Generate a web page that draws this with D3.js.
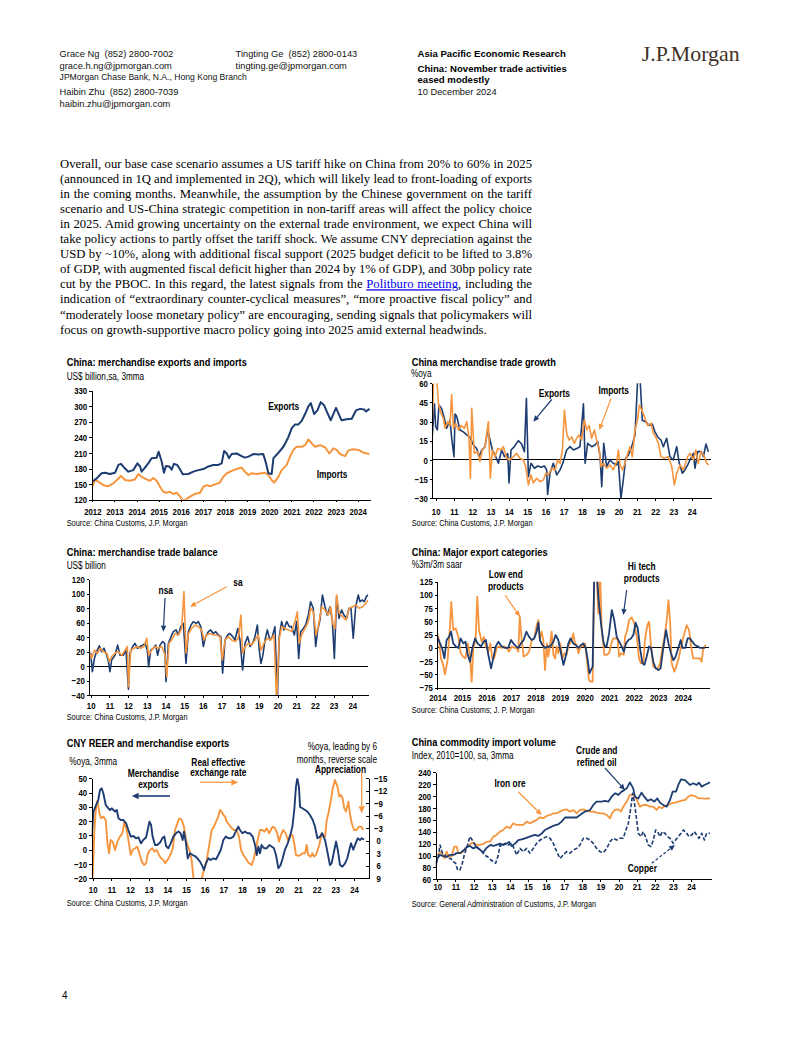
<!DOCTYPE html>
<html><head><meta charset="utf-8">
<script src="https://cdn.jsdelivr.net/npm/d3@7"></script>
<style>html,body{margin:0;padding:0;background:#fff;}svg{display:block;}</style>
</head><body>
<svg id="page" width="802" height="1037"></svg>
<script>
// ================= DATA =================
// Chart 1: exports & imports (US$ bn, sa, 3mma)
const c1XLabels = ['2012','2013','2014','2015','2016','2017','2018','2019','2020','2021','2022','2023','2024'];
const c1YTicks = [120,150,180,210,240,270,300,330];
const c1Exports = [[2012.00,155],[2012.20,161],[2012.42,171],[2012.57,172],[2012.80,169.5],[2013.03,172],[2013.18,187],[2013.30,189],[2013.48,180],[2013.63,174],[2013.85,177],[2014.04,190],[2014.16,184],[2014.23,174],[2014.38,182],[2014.53,190],[2014.68,200],[2014.91,201],[2015.00,212.5],[2015.14,193],[2015.24,172],[2015.33,185],[2015.48,184],[2015.59,178],[2015.69,189],[2015.84,187],[2015.97,178],[2016.09,169],[2016.34,169.5],[2016.57,174],[2016.79,177],[2017.02,179],[2017.25,184],[2017.47,187],[2017.70,187],[2017.85,190],[2017.96,214],[2018.08,209],[2018.18,200],[2018.30,208],[2018.53,209],[2018.75,204],[2018.90,201],[2019.06,203],[2019.28,208],[2019.50,207],[2019.73,208],[2019.85,191],[2019.96,171],[2020.11,169.5],[2020.19,200],[2020.41,210],[2020.64,222],[2020.86,240],[2021.02,258],[2021.17,265],[2021.32,265],[2021.47,272],[2021.62,285],[2021.77,300],[2021.88,306],[2022.03,285],[2022.18,292],[2022.33,308],[2022.48,302],[2022.60,290],[2022.78,273],[2023.02,297],[2023.27,273],[2023.50,275],[2023.73,276],[2023.92,292],[2024.11,295],[2024.29,294],[2024.38,290],[2024.53,295]];
const c1Imports = [[2012.00,145],[2012.12,158],[2012.27,155],[2012.50,148],[2012.72,146],[2012.95,151.5],[2013.18,161],[2013.30,166],[2013.48,158],[2013.70,156.6],[2013.93,159],[2014.08,169.5],[2014.23,164],[2014.46,159],[2014.61,156.6],[2014.76,162],[2014.91,156.6],[2015.06,145],[2015.21,135.4],[2015.36,133.5],[2015.51,135.4],[2015.66,131],[2015.81,133.5],[2015.97,126],[2016.09,118],[2016.24,120.6],[2016.42,126],[2016.64,131],[2016.87,133.5],[2017.02,145],[2017.17,148],[2017.32,146],[2017.55,149.5],[2017.77,153],[2017.92,164],[2018.08,171],[2018.23,174],[2018.38,177],[2018.60,180],[2018.75,182],[2018.90,174],[2019.06,167.5],[2019.21,171],[2019.43,169.5],[2019.66,171],[2019.81,172],[2019.96,167.5],[2020.11,158],[2020.22,153],[2020.41,164],[2020.56,177],[2020.79,187],[2020.94,203],[2021.09,216],[2021.24,222],[2021.47,222],[2021.62,225],[2021.77,236],[2021.92,228.5],[2022.07,222],[2022.30,225],[2022.52,221],[2022.72,209],[2022.90,219],[2023.05,216],[2023.20,208],[2023.43,204],[2023.58,215],[2023.80,217],[2024.03,216],[2024.26,210.5],[2024.53,208]];

// Chart 2: trade growth (%oya)
const c2XLabels = ['10','11','12','13','14','15','16','17','18','19','20','21','22','23','24'];
const c2YTicks = [-30,-15,0,15,30,45,60];
const c2Exports = [[2009.82,20],[2009.93,44],[2010.00,26],[2010.09,23.5],[2010.18,43],[2010.33,40],[2010.47,32.6],[2010.60,24.8],[2010.78,31],[2010.87,17.7],[2011.00,2.6],[2011.06,36],[2011.15,34],[2011.33,23.5],[2011.51,22],[2011.70,19.6],[2011.88,17.7],[2012.06,11.7],[2012.24,9],[2012.37,2.6],[2012.52,7.8],[2012.70,10.4],[2012.84,23.5],[2012.97,15.6],[2013.10,7.8],[2013.24,4],[2013.43,-2.6],[2013.61,7.8],[2013.76,2.6],[2013.94,5],[2014.01,-18],[2014.12,7.8],[2014.30,10.4],[2014.52,15.1],[2014.70,12.5],[2014.85,6.5],[2014.96,48],[2015.07,-13],[2015.21,-2.6],[2015.40,-6.5],[2015.58,-4.7],[2015.76,-5.7],[2015.94,-4.7],[2016.07,-7.8],[2016.12,-27],[2016.25,-10.4],[2016.43,-2.6],[2016.62,-11.7],[2016.80,-7.8],[2016.98,-1.3],[2017.16,7.8],[2017.35,10.4],[2017.53,7.8],[2017.71,9],[2017.89,10.4],[2018.08,44],[2018.17,-2.6],[2018.31,13],[2018.53,10.4],[2018.71,11.7],[2018.86,14.3],[2018.99,2.6],[2019.08,-21],[2019.19,13],[2019.35,-5.2],[2019.53,0],[2019.71,-2.6],[2019.90,-3.9],[2019.99,-1.3],[2020.13,-30],[2020.26,-15.6],[2020.39,1.3],[2020.54,3.9],[2020.72,10.4],[2020.90,19.6],[2021.05,65],[2021.17,65],[2021.30,31],[2021.48,30],[2021.67,27],[2021.85,28],[2021.99,22],[2022.14,18],[2022.32,15.6],[2022.45,10.4],[2022.63,17],[2022.81,2.6],[2022.99,0],[2023.18,10.4],[2023.32,-2.6],[2023.49,-10.4],[2023.63,-7.8],[2023.78,-3.9],[2023.91,0],[2024.09,5.2],[2024.18,-6.5],[2024.33,6.5],[2024.52,6.5],[2024.64,2.6],[2024.78,12.5],[2024.91,6.5]];
const c2Imports = [[2009.82,31],[2009.89,65],[2010.05,65],[2010.15,44],[2010.29,36.5],[2010.42,32.6],[2010.51,24.8],[2010.66,30],[2010.78,27],[2010.87,51],[2010.97,24.8],[2011.09,28.7],[2011.24,23.5],[2011.39,27],[2011.57,24.8],[2011.70,30],[2011.82,17],[2011.90,-14.3],[2011.97,40.4],[2012.11,5.2],[2012.30,6.5],[2012.42,-1.3],[2012.55,7.8],[2012.70,10.4],[2012.88,30],[2012.99,-14.3],[2013.10,7.8],[2013.24,2.6],[2013.39,9],[2013.57,7.8],[2013.70,10.4],[2013.88,1.3],[2014.06,0],[2014.25,2.6],[2014.43,5.2],[2014.61,1.3],[2014.79,0],[2014.92,-5.2],[2015.07,-19.6],[2015.21,-11.7],[2015.34,-18],[2015.52,-14.3],[2015.71,-17],[2015.89,-15.6],[2016.02,-10.4],[2016.16,-11.7],[2016.34,-6.5],[2016.53,-7.8],[2016.67,0],[2016.80,-2.6],[2016.93,7.8],[2017.04,39],[2017.16,21],[2017.29,15.6],[2017.44,18],[2017.58,13],[2017.71,17],[2017.84,19.6],[2017.98,15.6],[2018.13,31.3],[2018.26,23.5],[2018.39,27],[2018.53,17],[2018.68,23.5],[2018.80,15.6],[2018.95,7.8],[2019.04,-5.2],[2019.17,-2.6],[2019.35,-6.5],[2019.53,-3.9],[2019.71,-7.8],[2019.90,-1.3],[2019.99,7.8],[2020.08,-3.9],[2020.21,-7.8],[2020.35,-2.6],[2020.50,5.2],[2020.63,10.4],[2020.75,2.6],[2020.90,23.5],[2021.03,31],[2021.14,43],[2021.27,39],[2021.41,34],[2021.59,27],[2021.78,28.7],[2021.90,21],[2022.03,18],[2022.18,13],[2022.32,2.6],[2022.50,1.3],[2022.72,2.6],[2022.91,-5.2],[2023.05,-19.6],[2023.18,-10.4],[2023.36,-3.9],[2023.54,-7.8],[2023.78,2.6],[2023.91,5.2],[2024.09,0],[2024.22,7.8],[2024.36,-2.6],[2024.51,6.5],[2024.69,2.6],[2024.82,-2.6],[2024.95,-3.9]];

// Chart 3: trade balance (US$ bn)
const c3XLabels = c2XLabels;
const c3YTicks = [-40,-20,0,20,40,60,80,100,120];
const c3Nsa = [[2009.93,15],[2010.00,17.7],[2010.09,-7.7],[2010.20,10.7],[2010.32,20],[2010.46,28],[2010.59,20],[2010.71,24.6],[2010.86,15],[2010.95,6],[2011.03,-7.7],[2011.12,8.4],[2011.30,15],[2011.44,29],[2011.57,15],[2011.75,15],[2011.89,22],[2012.02,-32],[2012.10,17.7],[2012.25,27],[2012.37,31.5],[2012.50,24.6],[2012.64,27],[2012.78,29],[2012.91,31.5],[2013.03,22],[2013.10,-1],[2013.21,22],[2013.35,24.6],[2013.48,29],[2013.58,15],[2013.71,29],[2013.85,34],[2013.96,31.5],[2014.03,-21.5],[2014.16,31.5],[2014.30,40.7],[2014.42,47.6],[2014.57,50],[2014.69,43],[2014.82,54.5],[2014.96,59],[2015.10,3.7],[2015.23,47.6],[2015.37,56.8],[2015.49,61.5],[2015.64,59],[2015.76,61.5],[2015.89,54.5],[2016.03,27],[2016.15,40.7],[2016.30,47.6],[2016.42,50],[2016.56,45],[2016.69,47.6],[2016.83,43],[2016.96,40.7],[2017.06,-10],[2017.19,36],[2017.33,43],[2017.45,45],[2017.60,40.7],[2017.72,36],[2017.87,52],[2017.99,36],[2018.13,-5.4],[2018.26,31.5],[2018.40,40.7],[2018.53,27],[2018.67,31.5],[2018.79,40.7],[2018.92,56.8],[2019.02,22],[2019.11,3.7],[2019.20,13],[2019.33,36],[2019.45,50],[2019.59,36],[2019.72,40.7],[2019.86,54.5],[2019.99,-45],[2020.09,40.7],[2020.22,61.5],[2020.34,50],[2020.49,61.5],[2020.63,54.5],[2020.75,54.5],[2020.90,43],[2021.02,61.5],[2021.13,10.6],[2021.24,47.6],[2021.38,52],[2021.50,56.8],[2021.65,70.7],[2021.77,89],[2021.91,80],[2022.04,27],[2022.15,50],[2022.27,63.8],[2022.40,98.3],[2022.54,82],[2022.66,70.7],[2022.81,82],[2022.93,63.8],[2023.04,10.6],[2023.16,96],[2023.29,66],[2023.43,77.6],[2023.55,70.7],[2023.70,66],[2023.82,80],[2023.93,80],[2024.05,38.4],[2024.18,82],[2024.32,98.3],[2024.41,89],[2024.54,91.4],[2024.64,89],[2024.77,97],[2024.86,98.3]];
const c3Sa = [[2009.93,20],[2010.05,10.7],[2010.20,22],[2010.36,17.7],[2010.50,24.6],[2010.68,20],[2010.86,17.7],[2011.00,6],[2011.12,13],[2011.30,17.7],[2011.48,20],[2011.66,15],[2011.84,22],[2011.96,27],[2012.02,-28.4],[2012.14,22],[2012.32,24.6],[2012.50,27],[2012.68,24.6],[2012.85,27],[2013.00,38.4],[2013.10,15],[2013.26,22],[2013.44,27],[2013.62,24.6],[2013.80,27],[2013.98,15],[2014.07,-14.6],[2014.19,31.5],[2014.33,36],[2014.51,45],[2014.69,43],[2014.87,52],[2014.99,103],[2015.10,17.7],[2015.23,45],[2015.40,52],[2015.58,56.8],[2015.76,54.5],[2015.94,50],[2016.06,36],[2016.21,43],[2016.38,45],[2016.56,43],[2016.74,43],[2016.92,40.7],[2017.04,8.4],[2017.19,36],[2017.37,40.7],[2017.54,36],[2017.72,33.8],[2017.90,38.4],[2018.04,70.7],[2018.13,17.7],[2018.26,27],[2018.44,31.5],[2018.61,29],[2018.79,36],[2018.97,43],[2019.11,22],[2019.27,31.5],[2019.45,38.4],[2019.63,36],[2019.81,43],[2019.95,-50],[2020.08,36],[2020.22,54.5],[2020.40,52],[2020.58,50],[2020.75,47.6],[2020.93,61.5],[2021.06,75],[2021.16,31.5],[2021.29,43],[2021.47,52],[2021.65,61.5],[2021.77,80],[2021.91,75.3],[2022.06,43],[2022.18,54.5],[2022.36,82],[2022.54,77.6],[2022.72,70.7],[2022.84,82],[2022.95,59],[2023.07,52],[2023.16,98.3],[2023.30,73],[2023.48,68.4],[2023.66,63.8],[2023.84,80],[2024.02,82],[2024.20,84.5],[2024.37,80],[2024.55,82],[2024.73,86.8],[2024.86,91.4]];

// Chart 4: major export categories (%3m/3m saar)
const c4XLabels = ['2014','2015','2016','2017','2018','2019','2020','2021','2022','2023','2024'];
const c4YTicks = [-75,-50,-25,0,25,50,75,100,125];
const c4LowEnd = [[2014.00,27.5],[2014.07,15],[2014.15,-19.7],[2014.24,-32],[2014.31,-50],[2014.42,-23],[2014.52,43],[2014.57,87],[2014.65,33.8],[2014.75,37],[2014.86,21],[2014.95,-10],[2015.06,-16.5],[2015.15,-19.7],[2015.24,8.6],[2015.33,-13],[2015.40,-63.7],[2015.47,0],[2015.56,15],[2015.63,97],[2015.70,33.8],[2015.81,11.8],[2015.90,21],[2015.98,3],[2016.08,-7],[2016.16,8.6],[2016.24,-19.7],[2016.32,-19.7],[2016.42,0],[2016.51,3],[2016.62,0],[2016.73,3],[2016.83,0],[2016.92,-7],[2017.03,3],[2017.14,0],[2017.23,0],[2017.30,-7],[2017.36,60],[2017.44,15],[2017.52,-16.5],[2017.64,-13],[2017.74,-7],[2017.85,15],[2017.95,18],[2018.05,43],[2018.12,52.7],[2018.18,15],[2018.25,30.7],[2018.32,15],[2018.39,-41.7],[2018.46,8.6],[2018.52,-16.5],[2018.59,3],[2018.66,30.7],[2018.73,-13],[2018.80,-19.7],[2018.86,3],[2018.93,-10],[2019.01,8.6],[2019.10,-19.7],[2019.18,-10],[2019.27,-13],[2019.34,3],[2019.48,15],[2019.54,27.5],[2019.61,8.6],[2019.68,5.6],[2019.75,-10],[2019.86,5.6],[2019.95,3],[2020.02,8.6],[2020.09,-19.7],[2020.18,-60.5],[2020.26,-63.7],[2020.33,-63.7],[2020.40,150],[2020.49,150],[2020.56,65],[2020.63,150],[2020.70,33.8],[2020.81,-13],[2020.90,-13],[2021.00,-10],[2021.11,11.8],[2021.17,18],[2021.27,18],[2021.35,16],[2021.41,-16.5],[2021.49,-10],[2021.60,-13],[2021.65,21],[2021.74,33.8],[2021.81,52.7],[2021.92,57.7],[2022.03,46],[2022.13,21],[2022.22,-19.7],[2022.30,-29],[2022.40,-26],[2022.46,15],[2022.56,43],[2022.63,49.5],[2022.71,3],[2022.80,-35.4],[2022.90,-38.5],[2022.98,-38.5],[2023.08,-29],[2023.17,0],[2023.25,18],[2023.35,52.7],[2023.42,90],[2023.49,46],[2023.55,-29],[2023.66,-44.8],[2023.76,-32],[2023.85,-16.5],[2023.96,8.6],[2024.07,27.5],[2024.16,43],[2024.26,33.8],[2024.34,3],[2024.43,-19.7],[2024.57,-19.7],[2024.71,-19.7],[2024.77,-26],[2024.84,0],[2024.94,5.6]];
const c4HiTech = [[2014.00,21],[2014.11,8.6],[2014.20,-1],[2014.29,-19.7],[2014.38,15],[2014.48,21],[2014.56,30.7],[2014.65,8.6],[2014.75,3],[2014.86,0],[2014.95,18],[2015.06,8.6],[2015.15,11.8],[2015.24,-13],[2015.33,-26],[2015.43,0],[2015.54,18],[2015.64,8.6],[2015.78,3],[2015.89,11.8],[2015.98,15],[2016.08,-13],[2016.19,-38.5],[2016.28,-19.7],[2016.38,3],[2016.49,11.8],[2016.62,3],[2016.76,0],[2016.89,0],[2017.00,15],[2017.10,8.6],[2017.21,3],[2017.30,0],[2017.41,8.6],[2017.52,15],[2017.63,30.7],[2017.74,21],[2017.85,15],[2017.95,18],[2018.05,30.7],[2018.12,47.6],[2018.18,15],[2018.28,5.6],[2018.39,0],[2018.50,3],[2018.61,3],[2018.73,11.8],[2018.82,24.4],[2018.93,15],[2019.04,-10],[2019.14,-32],[2019.23,-16.5],[2019.34,8.6],[2019.43,18],[2019.54,8.6],[2019.64,5.6],[2019.75,0],[2019.86,5.6],[2019.95,8.6],[2020.05,0],[2020.13,-23],[2020.20,-48],[2020.26,-41.7],[2020.33,-35.4],[2020.40,150],[2020.49,150],[2020.56,97],[2020.67,46],[2020.77,11.8],[2020.83,3],[2020.90,3],[2021.00,27.5],[2021.11,71.5],[2021.21,52.7],[2021.31,21],[2021.41,11.8],[2021.51,3],[2021.60,-7],[2021.69,8.6],[2021.79,15],[2021.89,18],[2021.99,24.4],[2022.08,47.6],[2022.17,37],[2022.26,0],[2022.36,-29],[2022.44,-32],[2022.53,-16.5],[2022.63,3],[2022.71,0],[2022.80,-26],[2022.90,-38.5],[2023.01,-41.7],[2023.10,-38.5],[2023.21,0],[2023.32,33.8],[2023.42,8.6],[2023.52,-10],[2023.62,-23],[2023.71,-16.5],[2023.82,0],[2023.92,15],[2023.99,0],[2024.10,0],[2024.20,18],[2024.30,18],[2024.39,11.8],[2024.50,5.6],[2024.61,3],[2024.71,0],[2024.80,0],[2024.91,0]];

// Chart 5: CNY REER vs exports
const c5XLabels = c2XLabels;
const c5YTicksLeft = [-20,-10,0,10,20,30,40,50];
const c5YTicksRight = [-15,-12,-9,-6,-3,0,3,6,9];
const c5Exports = [[2009.95,9.2],[2010.04,26.7],[2010.18,31.3],[2010.30,34.8],[2010.39,41.8],[2010.48,43],[2010.57,39.5],[2010.70,31.3],[2010.84,29],[2010.93,27.8],[2011.02,29],[2011.11,27.8],[2011.20,26.7],[2011.29,27.8],[2011.38,22],[2011.50,20.8],[2011.64,20.8],[2011.79,18.5],[2011.91,13.8],[2012.04,9.2],[2012.18,9.6],[2012.32,8],[2012.45,8.7],[2012.59,4.5],[2012.71,6.8],[2012.86,8.7],[2012.93,12.7],[2013.04,19.7],[2013.13,17.3],[2013.21,9.2],[2013.34,3.3],[2013.46,3.3],[2013.61,5],[2013.73,8],[2013.84,9.2],[2013.93,2.6],[2014.05,1],[2014.18,4.5],[2014.32,9.2],[2014.46,11.5],[2014.59,12.7],[2014.71,11.5],[2014.82,6.8],[2014.89,12.7],[2015.00,4.5],[2015.09,-6],[2015.21,-2.5],[2015.36,-3.7],[2015.48,-4.4],[2015.61,-6],[2015.75,-8.3],[2015.89,-11.8],[2015.96,-14.2],[2016.07,-9.5],[2016.20,-6],[2016.32,-7.2],[2016.46,-6],[2016.61,-6.7],[2016.73,-3.7],[2016.86,-0.2],[2017.00,6.8],[2017.13,9.2],[2017.27,8],[2017.39,8],[2017.54,9.2],[2017.66,12.7],[2017.80,16.2],[2017.89,13.8],[2018.02,11.5],[2018.16,12.7],[2018.29,11.5],[2018.43,11.5],[2018.57,9.2],[2018.70,3.3],[2018.79,-3.7],[2018.88,2.2],[2018.96,-2.5],[2019.05,3.3],[2019.18,1],[2019.32,1],[2019.46,3.3],[2019.59,2.2],[2019.71,1],[2019.82,-3.7],[2019.95,-13],[2020.07,-10.7],[2020.18,-6],[2020.30,0],[2020.45,4.5],[2020.57,9.2],[2020.70,16.2],[2020.80,27.8],[2020.89,44],[2020.96,50],[2021.05,44],[2021.11,30],[2021.23,29],[2021.38,27.8],[2021.50,26.7],[2021.64,24.3],[2021.79,20.8],[2021.91,16.2],[2022.04,8],[2022.18,9.2],[2022.30,11.5],[2022.45,6.8],[2022.59,-2.5],[2022.71,-10.7],[2022.80,-9.5],[2022.93,-1.2],[2023.04,5.7],[2023.13,0],[2023.25,-10.7],[2023.38,-11.8],[2023.52,-9.5],[2023.64,-6],[2023.75,0],[2023.84,4.5],[2023.96,0],[2024.09,4.5],[2024.20,8],[2024.32,6.8],[2024.41,8],[2024.54,7.3]];
const c5Reer = [[2009.95,7],[2010.00,8.6],[2010.09,-2.6],[2010.18,-8.2],[2010.25,-9.6],[2010.36,-6.6],[2010.45,-5.4],[2010.57,-5.8],[2010.70,-5],[2010.79,0.6],[2010.88,3],[2010.96,-0.2],[2011.07,0.2],[2011.20,2.2],[2011.32,0.2],[2011.46,-1],[2011.59,-1.8],[2011.70,-4.6],[2011.82,-2.6],[2011.91,-0.2],[2012.04,3.4],[2012.14,2.2],[2012.27,1.8],[2012.39,1.4],[2012.50,3],[2012.63,5],[2012.75,5.8],[2012.86,5.4],[2012.96,3],[2013.07,2.2],[2013.20,1.8],[2013.30,2.6],[2013.43,2.2],[2013.55,3.4],[2013.66,4.2],[2013.79,4.6],[2013.89,5.4],[2014.00,4.6],[2014.11,3.8],[2014.20,3],[2014.29,1.8],[2014.41,-2.6],[2014.54,-4.2],[2014.64,-5.4],[2014.77,-5],[2014.89,-3.4],[2015.00,-0.2],[2015.11,1.4],[2015.21,2.6],[2015.30,4.6],[2015.39,8.6],[2015.48,10.5],[2015.75,10.5],[2015.84,9],[2015.96,7],[2016.11,4.6],[2016.23,1.4],[2016.38,-2.6],[2016.50,-3.4],[2016.61,-4.6],[2016.73,-5.8],[2016.82,-7.4],[2016.91,-7],[2017.00,-6.2],[2017.09,-5.8],[2017.18,-4.6],[2017.32,-3.8],[2017.45,-3],[2017.57,-2.6],[2017.71,-2.6],[2017.84,-1],[2017.95,2.2],[2018.07,3.4],[2018.20,4.2],[2018.30,5],[2018.39,5.4],[2018.52,5.8],[2018.64,4.2],[2018.73,2.2],[2018.84,-0.2],[2018.96,-2.6],[2019.09,-2.6],[2019.20,-2.2],[2019.32,-3],[2019.45,-1.8],[2019.54,-2.6],[2019.64,-3.4],[2019.77,-3],[2019.89,-1.8],[2019.98,0.2],[2020.09,-1.4],[2020.21,-2.6],[2020.34,-1.8],[2020.45,-0.2],[2020.57,-1.2],[2020.70,-1.4],[2020.80,0.6],[2020.89,3.4],[2021.02,3.6],[2021.14,3.4],[2021.25,3],[2021.38,3],[2021.46,1],[2021.55,3.4],[2021.68,3.8],[2021.77,3],[2021.86,3.8],[2021.96,3.4],[2022.05,2.2],[2022.14,1],[2022.27,-1.8],[2022.36,-1],[2022.45,-1],[2022.54,-5],[2022.63,-6.6],[2022.75,-9.4],[2022.86,-12.6],[2022.98,-14.6],[2023.11,-13],[2023.21,-10.6],[2023.30,-11],[2023.39,-10.2],[2023.48,-7.8],[2023.57,-7],[2023.70,-9.4],[2023.79,-6.2],[2023.88,-4.2],[2024.00,-2.6],[2024.14,-2.6],[2024.27,-3.4],[2024.38,-3.4],[2024.50,-2.6]];

// Chart 6: commodity import volume (index 2010=100)
const c6XLabels = c2XLabels;
const c6YTicks = [60,80,100,120,140,160,180,200,220,240];
const c6Crude = [[2009.91,81],[2010.00,95],[2010.15,101],[2010.33,99],[2010.52,98],[2010.70,101],[2010.88,101],[2011.07,104],[2011.25,104],[2011.43,108],[2011.62,114],[2011.80,116],[2011.99,112],[2012.17,115],[2012.35,110],[2012.54,105],[2012.69,112],[2012.81,115],[2012.96,118],[2013.09,116],[2013.27,118],[2013.46,120],[2013.64,118],[2013.83,120],[2013.96,123],[2014.10,116],[2014.29,120],[2014.47,126],[2014.65,127],[2014.84,129],[2015.02,131],[2015.21,133],[2015.39,134.6],[2015.57,133],[2015.76,137],[2015.94,143],[2016.13,146],[2016.31,148.6],[2016.49,151],[2016.68,152.5],[2016.86,157],[2017.05,164],[2017.41,164],[2017.69,164],[2017.87,168],[2018.15,174],[2018.43,176.6],[2018.61,185],[2018.79,190.6],[2019.07,190.6],[2019.25,192],[2019.44,190.6],[2019.62,199],[2019.81,204.7],[2019.99,202],[2020.17,207.5],[2020.32,210],[2020.45,213],[2020.63,223],[2020.81,213],[2020.91,199],[2021.09,196],[2021.27,205.8],[2021.42,199],[2021.61,192],[2021.79,194.6],[2021.98,190.6],[2022.14,196],[2022.29,189],[2022.47,185],[2022.66,182.2],[2022.84,193.4],[2022.99,207.5],[2023.17,207.5],[2023.30,218.7],[2023.45,228.2],[2023.67,227],[2023.94,218.7],[2024.13,221.5],[2024.31,218.7],[2024.44,222.6],[2024.59,215.9],[2024.74,218.7],[2024.86,220.4],[2025.05,223.2]];
const c6IronOre = [[2009.91,101],[2010.06,102.6],[2010.24,106.5],[2010.39,95],[2010.52,106.5],[2010.64,98],[2010.79,99],[2010.94,115],[2011.07,115],[2011.16,105],[2011.31,104],[2011.49,109.3],[2011.67,115],[2011.86,120.5],[2011.99,121.7],[2012.17,118],[2012.35,118],[2012.54,119.4],[2012.72,123.3],[2012.91,123.3],[2013.09,131.8],[2013.27,134.6],[2013.46,140.2],[2013.64,143],[2013.83,148.6],[2014.01,146],[2014.19,154.2],[2014.38,151.4],[2014.56,151.4],[2014.75,151.4],[2014.93,157],[2015.11,154.2],[2015.30,157],[2015.48,160],[2015.67,164.3],[2015.85,162.6],[2016.03,166.5],[2016.22,168.2],[2016.40,171],[2016.59,171],[2016.77,173.8],[2016.95,176.6],[2017.14,177.7],[2017.32,173.8],[2017.51,176.6],[2017.69,171],[2017.87,176.6],[2018.06,177.7],[2018.24,175.5],[2018.43,173.8],[2018.61,173.8],[2018.79,172],[2018.98,171],[2019.16,171],[2019.35,168.2],[2019.53,162.6],[2019.66,172],[2019.81,176.6],[2019.99,177.7],[2020.14,173.8],[2020.26,182.2],[2020.45,190.6],[2020.63,202],[2020.81,202],[2021.00,194.6],[2021.18,182.2],[2021.36,185],[2021.55,185],[2021.73,182.2],[2021.92,182.2],[2022.10,176.6],[2022.23,182.2],[2022.38,179.4],[2022.56,183.4],[2022.75,185],[2022.93,188],[2023.12,189],[2023.30,190.6],[2023.48,192.3],[2023.67,193.4],[2023.85,199],[2024.00,201.8],[2024.22,200],[2024.40,196.3],[2024.59,196.3],[2024.77,195.7],[2025.05,196.3]];
const c6Copper = [[2009.91,87],[2010.06,98],[2010.15,117.7],[2010.28,104],[2010.42,101],[2010.57,95],[2010.75,95],[2010.88,89.7],[2011.01,87],[2011.12,75.7],[2011.25,75.7],[2011.38,87],[2011.49,101],[2011.67,117.7],[2011.80,131.8],[2011.93,126],[2012.08,117.7],[2012.23,112],[2012.41,109.3],[2012.59,101],[2012.78,98],[2012.96,92.5],[2013.09,89.7],[2013.22,87],[2013.37,101],[2013.46,117.7],[2013.55,115],[2013.73,120.5],[2013.92,117.7],[2014.07,120.5],[2014.19,115],[2014.38,101],[2014.56,112],[2014.75,106.5],[2014.93,112],[2015.11,104],[2015.30,112],[2015.48,120.5],[2015.67,126],[2015.85,129],[2016.03,131.8],[2016.22,129],[2016.40,120.5],[2016.59,106.5],[2016.77,95],[2016.95,101],[2017.14,106.5],[2017.32,104],[2017.51,109.3],[2017.69,112],[2017.87,117.7],[2018.06,129],[2018.24,129],[2018.43,126],[2018.61,120.5],[2018.79,112],[2018.98,106.5],[2019.16,104.8],[2019.35,112],[2019.53,123.3],[2019.71,129],[2019.90,126],[2020.08,129],[2020.26,129],[2020.41,143],[2020.54,154],[2020.69,182.2],[2020.78,204.7],[2020.87,190.6],[2021.00,160],[2021.09,137.4],[2021.24,131.8],[2021.36,140.2],[2021.49,131.8],[2021.64,117.7],[2021.79,115],[2021.92,126],[2022.05,143],[2022.16,140.2],[2022.29,131.8],[2022.42,140.2],[2022.56,137.4],[2022.71,131.8],[2022.84,129],[2023.02,120.5],[2023.15,126],[2023.30,131.8],[2023.45,137.4],[2023.58,143],[2023.76,137.4],[2023.89,131.8],[2024.04,134.6],[2024.18,140.2],[2024.31,134.6],[2024.44,129],[2024.59,137.4],[2024.74,126],[2024.86,137.4],[2025.05,137.4]];

// Text
const paragraphLines = [
 'Overall, our base case scenario assumes a US tariff hike on China from 20% to 60% in 2025',
 '(announced in 1Q and implemented in 2Q), which will likely lead to front-loading of exports',
 'in the coming months. Meanwhile, the assumption by the Chinese government on the tariff',
 'scenario and US-China strategic competition in non-tariff areas will affect the policy choice',
 'in 2025. Amid growing uncertainty on the external trade environment, we expect China will',
 'take policy actions to partly offset the tariff shock. We assume CNY depreciation against the',
 'USD by ~10%, along with additional fiscal support (2025 budget deficit to be lifted to 3.8%',
 'of GDP, with augmented fiscal deficit higher than 2024 by 1% of GDP), and 30bp policy rate',
 ['cut by the PBOC. In this regard, the latest signals from the ','Politburo meeting',', including the'],
 'indication of \u201cextraordinary counter-cyclical measures\u201d, \u201cmore proactive fiscal policy\u201d and',
 '\u201cmoderately loose monetary policy\u201d are encouraging, sending signals that policymakers will',
 'focus on growth-supportive macro policy going into 2025 amid external headwinds.'
];

// ================= DRAWING =================
const NAVY = '#1d3d72', ORANGE = '#f6953d';
const NARROW = '"Liberation Sans Narrow","Arial Narrow",sans-serif';
const SANS = '"Liberation Sans",Arial,sans-serif';
const SERIF = '"Liberation Serif","Times New Roman",serif';
const svg = d3.select('#page');
svg.append('rect').attr('width',802).attr('height',1037).attr('fill','#fff');

function txt(x, y, s, o = {}) {
  const t = svg.append('text').attr('x', x).attr('y', y).text(s)
    .attr('font-size', o.size || 10).attr('font-weight', o.bold ? 'bold' : 'normal')
    .attr('text-anchor', o.anchor || 'start').attr('fill', o.fill || '#000')
    .attr('font-family', o.family || NARROW);
  if (!o.family) t.classed('n', true);
  return t;
}

// Header
[['Grace Ng  (852) 2800-7002',57.3,9.3],['grace.h.ng@jpmorgan.com',69,9.3],['JPMorgan Chase Bank, N.A., Hong Kong Branch',80,8.6],['Haibin Zhu  (852) 2800-7039',95,9.3],['haibin.zhu@jpmorgan.com',106.6,9.3]]
  .forEach(d => txt(59.6, d[1], d[0], {size: d[2], family: SANS, fill: '#111'}).attr('xml:space','preserve'));
[['Tingting Ge  (852) 2800-0143',57.3],['tingting.ge@jpmorgan.com',69]]
  .forEach(d => txt(235.6, d[1], d[0], {size: 9.3, family: SANS, fill: '#111'}).attr('xml:space','preserve'));
txt(417.5, 57.3, 'Asia Pacific Economic Research', {size: 9.6, bold: true, family: SANS});
txt(417.5, 71.6, 'China: November trade activities', {size: 9.6, bold: true, family: SANS});
txt(417.5, 83.3, 'eased modestly', {size: 9.6, bold: true, family: SANS});
txt(417.5, 95, '10 December 2024', {size: 9.3, family: SANS, fill: '#111'});
txt(641.7, 61, 'J.P.Morgan', {size: 22, family: SERIF, fill: '#3f3128'}).attr('textLength', 98).attr('lengthAdjust', 'spacingAndGlyphs');

// Paragraph
const PX = 60, PW = 472;
paragraphLines.forEach((ln, i) => {
  const t = svg.append('text').attr('x', PX).attr('y', 167.5 + i * 15.1)
    .attr('font-family', SERIF).attr('font-size', 12.7).attr('fill', '#000').attr('xml:space','preserve');
  if (Array.isArray(ln)) {
    t.append('tspan').text(ln[0]);
    t.append('tspan').text(ln[1]).attr('fill', '#0000ee').attr('text-decoration', 'underline');
    t.append('tspan').text(ln[2]);
  } else t.text(ln);
  if (i < paragraphLines.length - 1) {
    const full = Array.isArray(ln) ? ln.join('') : ln;
    const spaces = (full.match(/ /g) || []).length;
    const L = t.node().getComputedTextLength();
    if (spaces > 0) t.attr('word-spacing', (PW - L) / spaces);
  }
});

function arrow(x1, y1, x2, y2, color, w = 1, dash = null, head = 6) {
  const a = Math.atan2(y2 - y1, x2 - x1);
  const bx = x2 - head * Math.cos(a), by = y2 - head * Math.sin(a);
  svg.append('line').attr('x1', x1).attr('y1', y1).attr('x2', bx).attr('y2', by)
    .attr('stroke', color).attr('stroke-width', w).attr('stroke-dasharray', dash);
  const hw = head * 0.45;
  const p = [[x2, y2], [bx + hw * Math.sin(a), by - hw * Math.cos(a)], [bx - hw * Math.sin(a), by + hw * Math.cos(a)]];
  svg.append('polygon').attr('points', p.map(d => d.join(',')).join(' ')).attr('fill', color);
}

function styleAxis(g, size = 9.5) {
  g.attr('font-family', null).attr('font-size', null);
  g.selectAll('path.domain').attr('stroke', '#000').attr('stroke-width', 1).attr('shape-rendering', 'crispEdges');
  g.selectAll('.tick line').attr('stroke', '#000').attr('shape-rendering', 'crispEdges');
  g.selectAll('text').attr('font-family', NARROW).attr('font-size', size).attr('font-weight', 'bold').attr('fill', '#000').classed('n', true);
}

let clipN = 0;
function chart(c) {
  // label-based time mapping, then restrict domain to plot edges
  const lab = d3.scaleLinear().domain(c.labT).range(c.labX);
  const x = d3.scaleLinear().domain([lab.invert(c.left), lab.invert(c.right)]).range([c.left, c.right]);
  const y = d3.scaleLinear().domain(c.yDomain).range([c.bottom, c.top]);
  const id = 'clip' + (clipN++);
  svg.append('clipPath').attr('id', id).append('rect')
    .attr('x', c.left).attr('y', c.top).attr('width', c.right - c.left).attr('height', c.bottom - c.top);
  if (c.zero) svg.append('line').attr('x1', c.left).attr('x2', c.right).attr('y1', y(0)).attr('y2', y(0))
    .attr('stroke', '#000').attr('stroke-width', 1).attr('shape-rendering', 'crispEdges');
  const yR = c.yRight ? d3.scaleLinear().domain(c.yRight.domain).range([c.bottom, c.top]) : null;
  c.series.forEach(s => {
    const ys = s.right ? yR : y;
    svg.append('path').datum(s.data).attr('clip-path', `url(#${id})`)
      .attr('fill', 'none').attr('stroke', s.color).attr('stroke-width', s.w || 1.6)
      .attr('stroke-dasharray', s.dash || null).attr('stroke-linejoin', 'round')
      .attr('d', d3.line().x(d => x(d[0])).y(d => ys(d[1])));
  });
  const gy = svg.append('g').attr('transform', `translate(${c.left},0)`)
    .call(d3.axisLeft(y).tickValues(c.yTicks).tickSize(2.5).tickSizeOuter(0).tickPadding(2));
  styleAxis(gy);
  const xt = c.xLabels.map(l => c.labT[0] + c.xLabels.indexOf(l) * (c.labT[1] - c.labT[0]) / (c.xLabels.length - 1));
  const gx = svg.append('g').attr('transform', `translate(0,${c.bottom})`)
    .call(d3.axisBottom(x).tickValues(xt).tickSize(2.5).tickSizeOuter(0).tickFormat((d, i) => c.xLabels[i]));
  styleAxis(gx);
  gx.selectAll('text').attr('dy', null).attr('y', c.xLabelBase - c.bottom);
  if (yR) {
    const gr = svg.append('g').attr('transform', `translate(${c.right},0)`)
      .call(d3.axisRight(yR).tickValues(c.yRight.ticks).tickSize(-3).tickSizeOuter(0).tickPadding(5));
    styleAxis(gr);
    gr.selectAll('.tick text').attr('dx', d => d >= 0 ? 2.6 : 0);
  }
  txt(c.titleX, c.titleY, c.title, {size: 11.3, bold: true});
  if (c.sub) txt(c.subX || c.titleX, c.subY, c.sub, {size: 10});
  txt(c.titleX, c.srcY, c.src, {size: 9});
  return {x, y};
}

// Chart 1
chart({left: 91.7, right: 370, top: 390.7, bottom: 499.7, yDomain: [120, 330], yTicks: c1YTicks,
  labT: [2012, 2024], labX: [92.3, 357.7], xLabels: c1XLabels, xLabelBase: 515.5,
  series: [{data: c1Imports, color: ORANGE, w: 2}, {data: c1Exports, color: NAVY, w: 2}],
  title: 'China: merchandise exports and imports', titleX: 66.7, titleY: 365.5,
  sub: 'US$ billion,sa, 3mma', subY: 380.3, src: 'Source: China Customs, J.P. Morgan', srcY: 526.3});
txt(283.7, 409.5, 'Exports', {size: 10.2, bold: true, anchor: 'middle'});
txt(332, 478, 'Imports', {size: 10.2, bold: true, anchor: 'middle'});

// Chart 2
chart({left: 432.3, right: 711, top: 383.3, bottom: 498.3, yDomain: [-30, 60], yTicks: c2YTicks, zero: true,
  labT: [2010, 2024], labX: [435.7, 691.7], xLabels: c2XLabels, xLabelBase: 515.5,
  series: [{data: c2Exports, color: NAVY, w: 1.6}, {data: c2Imports, color: ORANGE, w: 1.6}],
  title: 'China merchandise trade growth', titleX: 411.7, titleY: 365.5,
  sub: '%oya', subX: 411, subY: 377, src: 'Source: China Customs, J.P. Morgan', srcY: 525.6});
txt(554.3, 396.5, 'Exports', {size: 10.2, bold: true, anchor: 'middle'});
txt(613.7, 394.3, 'Imports', {size: 10.2, bold: true, anchor: 'middle'});
arrow(551.7, 399.5, 533.3, 421.7, NAVY, 1.2);
arrow(611, 398.5, 599.3, 430, ORANGE, 1.2);

// Chart 3
chart({left: 89.3, right: 368.3, top: 579.3, bottom: 695, yDomain: [-40, 120], yTicks: c3YTicks, zero: true,
  labT: [2010, 2024], labX: [90.7, 352.3], xLabels: c3XLabels, xLabelBase: 709,
  series: [{data: c3Nsa, color: NAVY, w: 1.6}, {data: c3Sa, color: ORANGE, w: 1.6}],
  title: 'China: merchandise trade balance', titleX: 66.7, titleY: 555.5,
  sub: 'US$ billion', subY: 569, src: 'Source: China Customs, J.P. Morgan', srcY: 720.3});
txt(165.8, 594.3, 'nsa', {size: 10.2, bold: true, anchor: 'middle'});
txt(238, 586.3, 'sa', {size: 10.2, bold: true, anchor: 'middle'});
arrow(165, 598, 163.3, 631.7, NAVY, 1.2);
arrow(226.7, 586.7, 190, 606.7, ORANGE, 1.2);

// Chart 4
chart({left: 437.3, right: 709, top: 581.7, bottom: 687.7, yDomain: [-75, 125], yTicks: c4YTicks, zero: true,
  labT: [2014, 2024], labX: [437.3, 682.7], xLabels: c4XLabels, xLabelBase: 700.7,
  series: [{data: c4LowEnd, color: ORANGE, w: 1.8}, {data: c4HiTech, color: NAVY, w: 1.8}],
  title: 'China: Major export categories', titleX: 411.7, titleY: 555.5,
  sub: '%3m/3m saar', subY: 568, src: 'Source: China Customs; J. P. Morgan', srcY: 713});
txt(505.8, 578.3, 'Low end', {size: 10.2, bold: true, anchor: 'middle'});
txt(505.8, 590.3, 'products', {size: 10.2, bold: true, anchor: 'middle'});
txt(641.7, 570.3, 'Hi tech', {size: 10.2, bold: true, anchor: 'middle'});
txt(641.7, 582.3, 'products', {size: 10.2, bold: true, anchor: 'middle'});
arrow(505, 595, 520, 616.7, ORANGE, 1.2);
arrow(626.7, 590, 623.3, 615, NAVY, 1.2);

// Chart 5
chart({left: 91.7, right: 369, top: 778.3, bottom: 878.3, yDomain: [-20, 50], yTicks: c5YTicksLeft,
  yRight: {domain: [9, -15], ticks: c5YTicksRight},
  labT: [2010, 2024], labX: [92.7, 354], xLabels: c5XLabels, xLabelBase: 893,
  series: [{data: c5Reer, color: ORANGE, w: 1.9, right: true}, {data: c5Exports, color: NAVY, w: 1.9}],
  title: 'CNY REER and merchandise exports', titleX: 66.7, titleY: 746.5,
  sub: '%oya, 3mma', subX: 69.3, subY: 764.6, src: 'Source: China Customs, J.P. Morgan', srcY: 906});
txt(377, 750.3, '%oya, leading by 6', {size: 10, anchor: 'end'});
txt(377, 762.6, 'months, reverse scale', {size: 10, anchor: 'end'});
txt(366, 772.9, 'Appreciation', {size: 10.2, bold: true, anchor: 'end'});
txt(153.3, 776.9, 'Merchandise', {size: 10.2, bold: true, anchor: 'middle'});
txt(153.3, 787.9, 'exports', {size: 10.2, bold: true, anchor: 'middle'});
txt(218.3, 765.9, 'Real effective', {size: 10.2, bold: true, anchor: 'middle'});
txt(218.3, 776.3, 'exchange rate', {size: 10.2, bold: true, anchor: 'middle'});
arrow(170, 796, 131.7, 796, NAVY, 1.6, null, 7);
arrow(200, 782.3, 238.3, 782.3, ORANGE, 1.2, null, 7);
arrow(361.7, 771.7, 361.7, 813.3, ORANGE, 1.2, null, 7);

// Chart 6
chart({left: 435.7, right: 711.7, top: 772.3, bottom: 879.3, yDomain: [60, 240], yTicks: c6YTicks,
  labT: [2010, 2024], labX: [437.3, 691], xLabels: c6XLabels, xLabelBase: 890.5,
  series: [{data: c6IronOre, color: ORANGE, w: 1.8}, {data: c6Copper, color: NAVY, w: 1.6, dash: '4,2'}, {data: c6Crude, color: NAVY, w: 1.8}],
  title: 'China commodity import volume', titleX: 411.7, titleY: 745.5,
  sub: 'Index, 2010=100, sa, 3mma', subY: 759, src: 'Source: General Administration of Customs, J.P. Morgan', srcY: 907});
txt(510, 786.9, 'Iron ore', {size: 10.2, bold: true, anchor: 'middle'});
txt(596.7, 754.3, 'Crude and', {size: 10.2, bold: true, anchor: 'middle'});
txt(596.7, 765.9, 'refined oil', {size: 10.2, bold: true, anchor: 'middle'});
txt(642.3, 871.9, 'Copper', {size: 10.2, bold: true, anchor: 'middle'});
arrow(518.3, 791.7, 541.7, 815, ORANGE, 1.2);
arrow(605, 768, 625, 790, NAVY, 1.2);
arrow(651.7, 863.3, 675, 845, NAVY, 1.2, '3,2');

// Page number
txt(62, 998.5, '4', {size: 10, family: SANS});

// Narrow-font fallback: compress Liberation Sans if the narrow face is missing
(function () {
  const cv = document.createElement('canvas').getContext('2d');
  const s = 'abcdefghijklmnopqrstuvwxyz0123456789';
  cv.font = '40px monospace'; const w1 = cv.measureText(s).width;
  cv.font = '40px "Liberation Sans Narrow", monospace'; const w2 = cv.measureText(s).width;
  if (Math.abs(w1 - w2) < 0.5) {
    svg.selectAll('text.n').each(function () {
      const t = d3.select(this).attr('font-family', SANS);
      const L = this.getComputedTextLength();
      if (L > 0) t.attr('textLength', L * 0.82).attr('lengthAdjust', 'spacingAndGlyphs');
    });
  }
})();
</script>
</body></html>
